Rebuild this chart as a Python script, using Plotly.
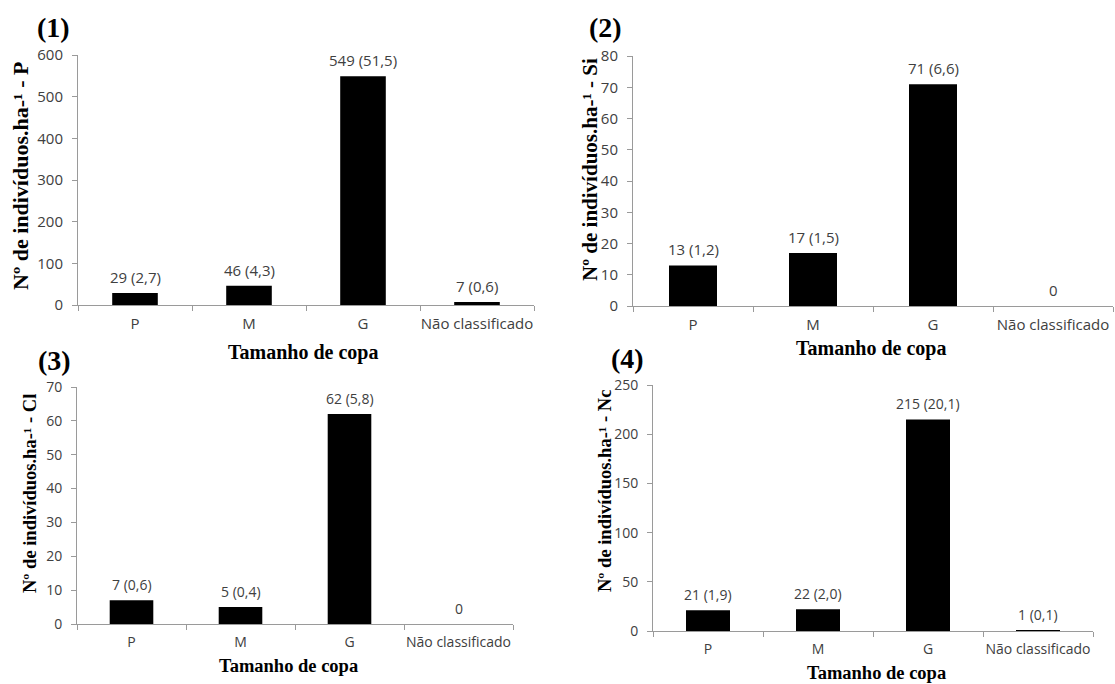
import plotly.graph_objects as go

W, H = 1115, 684

categories = ["P", "M", "G", "Não classificado"]

p_values = [29, 46, 549, 7]
p_pct = ["2,7", "4,3", "51,5", "0,6"]

si_values = [13, 17, 71, 0]
si_pct = ["1,2", "1,5", "6,6", None]

cl_values = [7, 5, 62, 0]
cl_pct = ["0,6", "0,4", "5,8", None]

nc_values = [21, 22, 215, 1]
nc_pct = ["1,9", "2,0", "20,1", "0,1"]

panel_labels = ["(1)", "(2)", "(3)", "(4)"]
y_titles = ["Nº de indivíduos.ha-¹ - P", "Nº de indivíduos.ha-¹ - Si",
            "Nº de indivíduos.ha-¹ - Cl", "Nº de indivíduos.ha-¹ - Nc"]
x_title = "Tamanho de copa"
y_ranges = [(0, 600), (0, 80), (0, 70), (0, 250)]
y_dticks = [100, 10, 10, 50]

series = [(p_values, p_pct), (si_values, si_pct), (cl_values, cl_pct), (nc_values, nc_pct)]

# layout geometry in pixels (left, right, top, bottom of plot areas)
boxes = [(78, 534, 55, 305), (633, 1113, 56, 306), (77, 513, 387, 624), (653, 1093, 385, 631)]
tick_fs = [15, 15, 14, 14]
xtitle_pos = [(303, 352, 20), (871, 348, 20), (288, 666, 18.5), (876, 673, 18.5)]
ytitle_pos = [(20, 176, 22), (590, 170, 21), (30, 494, 18.5), (605, 491, 18.5)]
plabel_pos = [(53, 27), (605, 27), (54, 360), (627, 358)]

SANS = "Open Sans, Liberation Sans, sans-serif"
SERIF = "Liberation Serif, Times New Roman, serif"
TXT = "#404040"
AX = "#9a9a9a"

def px(x):
    return x / W

def py(y):
    return 1 - y / H

fig = go.Figure()
annotations = []
for i, ((vals, pcts), (l, r, t, b)) in enumerate(zip(series, boxes)):
    n = "" if i == 0 else str(i + 1)
    fig.add_trace(go.Bar(x=categories, y=vals, xaxis="x" + n, yaxis="y" + n,
                         marker=dict(color="black", line=dict(width=0)),
                         showlegend=False, hoverinfo="skip"))
    fig.update_layout(**{
        "xaxis" + n: dict(domain=[px(l), px(r)], anchor="y" + n, type="category",
                          showline=True, linecolor=AX, linewidth=1,
                          ticks="outside", tickson="boundaries", ticklen=5, tickcolor=AX,
                          showgrid=False, ticklabelstandoff=5, tickangle=0,
                          automargin=False,
                          tickfont=dict(family=SANS, size=tick_fs[i], color=TXT),
                          range=[-0.5, 3.5], fixedrange=True),
        "yaxis" + n: dict(domain=[py(b), py(t)], anchor="x" + n,
                          range=list(y_ranges[i]), dtick=y_dticks[i],
                          showline=True, linecolor=AX, linewidth=1,
                          ticks="outside", ticklen=5, tickcolor=AX,
                          showgrid=False, zeroline=False, ticklabelstandoff=6,
                          automargin=False,
                          tickfont=dict(family=SANS, size=tick_fs[i], color=TXT),
                          fixedrange=True),
    })
    for c, v, pc in zip(categories, vals, pcts):
        label = f"{v} ({pc})" if pc is not None else f"{v}"
        annotations.append(dict(x=c, y=v, xref="x" + n, yref="y" + n, text=label,
                                showarrow=False, yanchor="middle", yshift=16,
                                font=dict(family=SANS, size=tick_fs[i], color=TXT)))
    xt = xtitle_pos[i]
    annotations.append(dict(x=px(xt[0]), y=py(xt[1]), xref="paper", yref="paper",
                            text="<b>" + x_title + "</b>", showarrow=False,
                            xanchor="center", yanchor="middle",
                            font=dict(family=SERIF, size=xt[2], color="black")))
    yt = ytitle_pos[i]
    annotations.append(dict(x=px(yt[0]), y=py(yt[1]), xref="paper", yref="paper",
                            text="<b>" + y_titles[i] + "</b>", showarrow=False,
                            textangle=-90, xanchor="center", yanchor="middle",
                            font=dict(family=SERIF, size=yt[2], color="black")))
    pl = plabel_pos[i]
    annotations.append(dict(x=px(pl[0]), y=py(pl[1]), xref="paper", yref="paper",
                            text="<b>" + panel_labels[i] + "</b>", showarrow=False,
                            xanchor="center", yanchor="middle",
                            font=dict(family=SERIF, size=28, color="black")))

fig.update_layout(width=W, height=H, margin=dict(l=0, r=0, t=0, b=0),
                  paper_bgcolor="white", plot_bgcolor="white",
                  bargap=0.6, annotations=annotations, showlegend=False)

fig.write_html("out.html")
